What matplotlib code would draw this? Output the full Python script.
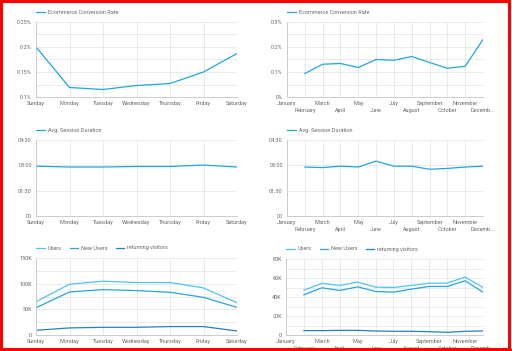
import numpy as np
import matplotlib
matplotlib.use("Agg")
import matplotlib.pyplot as plt
from matplotlib.ticker import FuncFormatter, MultipleLocator
from matplotlib.patches import Rectangle

plt.rcParams['font.family'] = ['Roboto', 'DejaVu Sans']

days = ["Sunday", "Monday", "Tuesday", "Wednesday", "Thursday", "Friday", "Saturday"]
months = ["January", "February", "March", "April", "May", "June", "July",
          "August", "September", "October", "November", "Decemb..."]

conv_day = [0.200, 0.119, 0.115, 0.123, 0.127, 0.150, 0.187]
conv_month = [np.nan, 0.094, 0.131, 0.134, 0.118, 0.150, 0.147, 0.162, 0.138, 0.115, 0.123, 0.230]

dur_day = [177, 174, 174, 176, 176, 181, 174]
dur_month = [np.nan, 174, 172, 177, 174, 195, 177, 177, 166, 169, 174, 177]

users_day = [64800, 98900, 104800, 102200, 102200, 91700, 62900]
new_day = [53000, 83800, 88400, 86500, 83200, 73400, 53700]
ret_day = [9200, 13800, 15000, 15000, 16400, 16400, 7900]

users_month = [np.nan, 47200, 54300, 52200, 55700, 50400, 50000, 52200, 54600, 54600, 61000, 50000]
new_month = [np.nan, 42300, 49700, 46900, 50700, 45800, 45100, 48300, 51100, 51100, 57100, 45100]
ret_month = [np.nan, 4600, 4600, 4900, 4900, 4200, 3900, 3900, 3500, 2800, 3900, 4200]

C_MAIN = "#1ea7dc"
C_USERS = "#4fc3f7"
C_NEW = "#29a3de"
C_RET = "#2680b8"
TXT = "#666666"
GRID = "#e6e6e6"
FS = 4.0

W, H = 512, 351
fig = plt.figure(figsize=(W / 100, H / 100), dpi=100)
fig.patch.set_facecolor("white")
PX = 72 / 100  # points per pixel


def make_ax(x0, x1, y0, y1):
    return fig.add_axes([x0 / W, 1 - y1 / H, (x1 - x0) / W, (y1 - y0) / H])


def style(ax, n, ymin, ymax, major, minor, fmt, labels, two_rows=False):
    ax.set_xlim(0, n - 1)
    ax.set_ylim(ymin, ymax)
    ax.yaxis.set_major_locator(MultipleLocator(major))
    ax.yaxis.set_minor_locator(MultipleLocator(minor))
    ax.yaxis.set_major_formatter(FuncFormatter(fmt))
    ax.set_xticks(range(n))
    ax.set_xticklabels([])
    ax.grid(True, which="both", axis="y", color=GRID, lw=0.6)
    ax.grid(True, which="major", axis="x", color=GRID, lw=0.6)
    ax.set_axisbelow(True)
    for s in ["top", "right"]:
        ax.spines[s].set_visible(False)
    for s in ["left", "bottom"]:
        ax.spines[s].set_color("#cccccc")
        ax.spines[s].set_linewidth(0.7)
    ax.tick_params(axis="both", which="both", length=0, labelsize=FS, colors=TXT, pad=3)
    for i, lab in enumerate(labels):
        off = 6.3
        if two_rows and i % 2 == 1:
            off = 13.3
        ax.annotate(lab, xy=(i, 0), xycoords=("data", "axes fraction"),
                    xytext=(0, -off * PX), textcoords="offset points",
                    ha="center", va="center", fontsize=FS, color=TXT, annotation_clip=False)


def legend(ax, height):
    lg = ax.legend(loc="center left", bbox_to_anchor=(0, 1 + 10 / height), frameon=False,
                   fontsize=FS, borderaxespad=0, borderpad=0, handlelength=1.6,
                   handletextpad=0.5, ncol=3, columnspacing=1.4)
    for t in lg.get_texts():
        t.set_color(TXT)


def pct(v, pos):
    s = ("%.2f" % v).rstrip("0").rstrip(".")
    return s + "%"


def mmss(v, pos):
    v = int(round(v))
    if v == 0:
        return "00"
    return "%02d:%02d" % (v // 60, v % 60)


def kfmt(v, pos):
    if v == 0:
        return "0"
    return "%dK" % int(round(v / 1000))


L0, L1 = 36, 237
R0, R1 = 287, 483

# Row 1
ax = make_ax(L0, L1, 22, 97)
ax.plot(range(7), conv_day, color=C_MAIN, lw=0.9, label="Ecommerce Conversion Rate")
style(ax, 7, 0.1, 0.25, 0.05, 0.025, pct, days)
legend(ax, 75)

ax = make_ax(R0, R1, 22, 97)
ax.plot(range(12), conv_month, color=C_MAIN, lw=0.9, label="Ecommerce Conversion Rate")
style(ax, 12, 0, 0.3, 0.1, 0.05, pct, months, two_rows=True)
legend(ax, 75)

# Row 2
ax = make_ax(L0, L1, 140, 216)
ax.plot(range(7), dur_day, color=C_MAIN, lw=0.9, label="Avg. Session Duration")
style(ax, 7, 0, 270, 90, 90, mmss, days)
legend(ax, 76)

ax = make_ax(R0, R1, 140, 216)
ax.plot(range(12), dur_month, color=C_MAIN, lw=0.9, label="Avg. Session Duration")
style(ax, 12, 0, 270, 90, 90, mmss, months, two_rows=True)
legend(ax, 76)

# Row 3
ax = make_ax(L0, L1, 258, 335)
ax.plot(range(7), users_day, color=C_USERS, lw=0.9, label="Users")
ax.plot(range(7), new_day, color=C_NEW, lw=0.9, label="New Users")
ax.plot(range(7), ret_day, color=C_RET, lw=0.9, label="returning visitors")
style(ax, 7, 0, 150000, 50000, 25000, kfmt, days)
legend(ax, 77)

ax = make_ax(R0 - 1, R1, 259, 335)
ax.plot(range(12), users_month, color=C_USERS, lw=0.9, label="Users")
ax.plot(range(12), new_month, color=C_NEW, lw=0.9, label="New Users")
ax.plot(range(12), ret_month, color=C_RET, lw=0.9, label="returning visitors")
style(ax, 12, 0, 80000, 20000, 10000, kfmt, months, two_rows=True)
legend(ax, 76)

# red frame
fig.patches.append(Rectangle((1 / W, 1 - 349 / H), 508 / W, 348 / H, transform=fig.transFigure,
                             fill=False, edgecolor="#ff0000", lw=2.2, zorder=100))
fig.patches.append(Rectangle((0, 0), 1, 2 / H, transform=fig.transFigure,
                             facecolor="#ff0000", edgecolor="none", zorder=100))

fig.savefig("out.png", dpi=100, facecolor="white")
